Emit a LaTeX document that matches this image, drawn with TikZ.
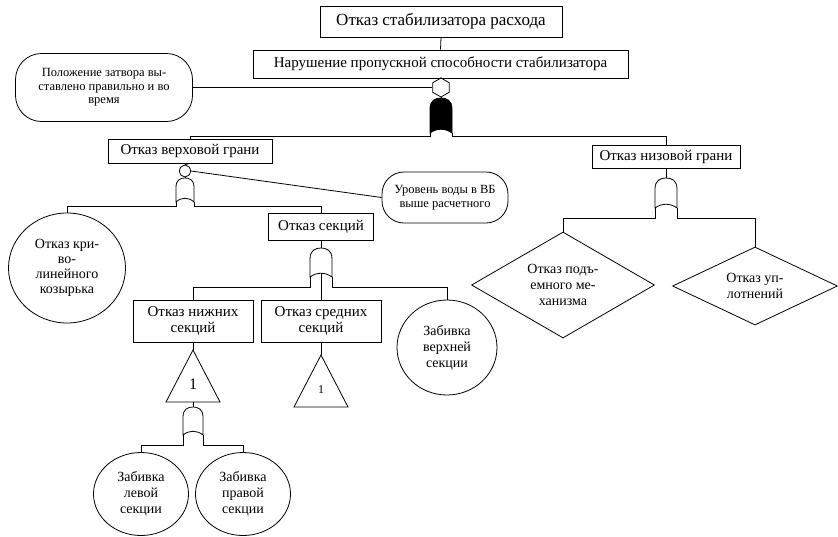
\documentclass[tikz,border=0pt]{standalone}
\usepackage{fontspec}
\setmainfont{Liberation Serif}
\usetikzlibrary{shapes.geometric}
\tikzset{
  every path/.style={line width=0.8pt},
  evbox/.style={draw, rectangle, align=center, inner sep=1pt, line width=0.8pt},
  condbox/.style={draw, rectangle, rounded corners=26pt, align=center, inner sep=1pt, line width=0.8pt},
  circev/.style={draw, ellipse, align=center, inner sep=0pt, line width=0.8pt},
  diamev/.style={draw, diamond, align=center, inner sep=0pt, line width=0.8pt},
  fbig/.style={font=\fontsize{17}{19}\selectfont},
  fmid/.style={font=\fontsize{15}{16}\selectfont},
  fsmall/.style={font=\fontsize{12.5}{13.5}\selectfont},
  fcirc/.style={font=\fontsize{14}{16}\selectfont},
  pics/gate/.style n args={3}{code={
    \coordinate (-top) at (0,0);
    \coordinate (-bl) at (-#1,#2);
    \coordinate (-br) at (#1,#2);
    \coordinate (-bm) at (0,#2-4);
    \draw[fill=#3, line width=0.8pt] (-#1,#2) -- (-#1,#1) .. controls (-#1,0.2*#1) and (-0.5*#1,0) .. (0,0)
      .. controls (0.5*#1,0) and (#1,0.2*#1) .. (#1,#1) -- (#1,#2)
      .. controls (0.4*#1,#2-5) and (-0.4*#1,#2-5) .. cycle;
  }}
}
\begin{document}
\begin{tikzpicture}[x=1pt,y=-1pt]
\useasboundingbox (0,0) rectangle (838,536);

% top events
\node[evbox, fbig, minimum width=242, minimum height=31] (n1) at (441,21.5) {Отказ стабилизатора расхода};
\node[evbox, fmid, minimum width=375, minimum height=28] (n2) at (440.5,64) {Нарушение пропускной способности стабилизатора};
\node[draw, regular polygon, regular polygon sides=6, shape border rotate=30, minimum size=19, inner sep=0pt] (hx) at (441,87.5) {};
\pic (g0) at (441,98) {gate={11}{35}{black}};
\node[condbox, fsmall, minimum width=177, minimum height=68] (c1) at (104,87.5) {Положение затвора вы-\\ставлено правильно и во\\время};

\draw (n1.south) -- (n2.north);
\draw (n2.south) -- (hx.north);
\draw (hx.south) -- (g0-top);
\draw (c1.east) -- (hx.west);

% second level
\node[evbox, fmid, minimum width=164, minimum height=24] (v) at (190,151) {Отказ верховой грани};
\node[evbox, fmid, minimum width=148, minimum height=23] (nz) at (666,156.5) {Отказ низовой грани};
\draw (g0-bl) -- ++(0,3) -| (v.north);
\draw (g0-br) -- ++(0,3) -| (nz.north);

% upstream face
\node[circev, minimum width=11, minimum height=12] (cs) at (185,171) {};
\pic (g1) at (185,178) {gate={9}{24}{white}};
\node[condbox, rounded corners=22pt, fsmall, minimum width=126, minimum height=51] (c2) at (445,197.5) {Уровень воды в ВБ\\выше расчетного};
\draw (v.south) -- (cs.north);
\draw (cs.south) -- (g1-top);
\draw (cs.east) -- (c2.west);

\node[circev, fcirc, font=\fontsize{14}{15}\selectfont, minimum width=117, minimum height=110] (k) at (67,268) {Отказ кри-\\во-\\линейного\\козырька};
\node[evbox, fmid, minimum width=105, minimum height=27] (s) at (321,226.5) {Отказ секций};
\draw (g1-bl) -- ++(0,4) -| (k.north);
\draw (g1-br) -- ++(0,4) -| (s.north);

% sections
\pic (g2) at (321,248) {gate={11}{29}{white}};
\draw (s.south) -- (g2-top);
\node[evbox, fmid, minimum width=120, minimum height=42] (ln) at (193,321) {Отказ нижних\\секций};
\node[evbox, fmid, minimum width=120, minimum height=42] (ls) at (321,321) {Отказ средних\\секций};
\node[circev, fcirc, minimum width=100, minimum height=95] (zv) at (447,347.5) {Забивка\\верхней\\секции};
\draw (g2-bl) -- ++(0,10) -| (ln.north);
\draw (g2-br) -- ++(0,10) -| (zv.north);
\draw (g2-bm) -- (g2-bm |- ls.north);

% transfer triangles
\coordinate (t1top) at (193,350);
\coordinate (t1bl) at (166,402);
\coordinate (t1br) at (220,402);
\coordinate (t1bot) at (193,402);
\draw (t1top) -- (t1br) -- (t1bl) -- cycle;
\node[font=\fontsize{16}{18}\selectfont] (t1) at (193,384) {1};
\draw (ln.south) -- (t1top);

\coordinate (t2top) at (321,355);
\coordinate (t2bl) at (294,407);
\coordinate (t2br) at (348,407);
\node[font=\fontsize{12}{13}\selectfont] (t2) at (321,390) {1};
\draw (t2top) -- (t2br) -- (t2bl) -- cycle;
\draw (ls.south) -- (t2top);

% lower sections gate
\pic (g3) at (193,407) {gate={10}{28}{white}};
\draw (t1bot) -- (g3-top);
\node[circev, fcirc, minimum width=95, minimum height=83] (zl) at (141,494) {Забивка\\левой\\секции};
\node[circev, fcirc, minimum width=95, minimum height=83] (zp) at (243,494) {Забивка\\правой\\секции};
\draw (g3-bl) -- ++(0,10) -| (zl.north);
\draw (g3-br) -- ++(0,10) -| (zp.north);

% downstream face
\pic (g4) at (666,178) {gate={11}{30}{white}};
\draw (nz.south) -- (g4-top);
\node[diamev, fcirc, aspect=1.7, minimum width=183, minimum height=106] (d1) at (563,285) {Отказ подъ-\\емного ме-\\ханизма};
\node[diamev, fcirc, aspect=2, minimum width=165, minimum height=78] (d2) at (755,286) {Отказ уп-\\лотнений};
\draw (g4-bl) -- ++(0,10) -| (d1.north);
\draw (g4-br) -- ++(0,10) -| (d2.north);
\end{tikzpicture}
\end{document}
